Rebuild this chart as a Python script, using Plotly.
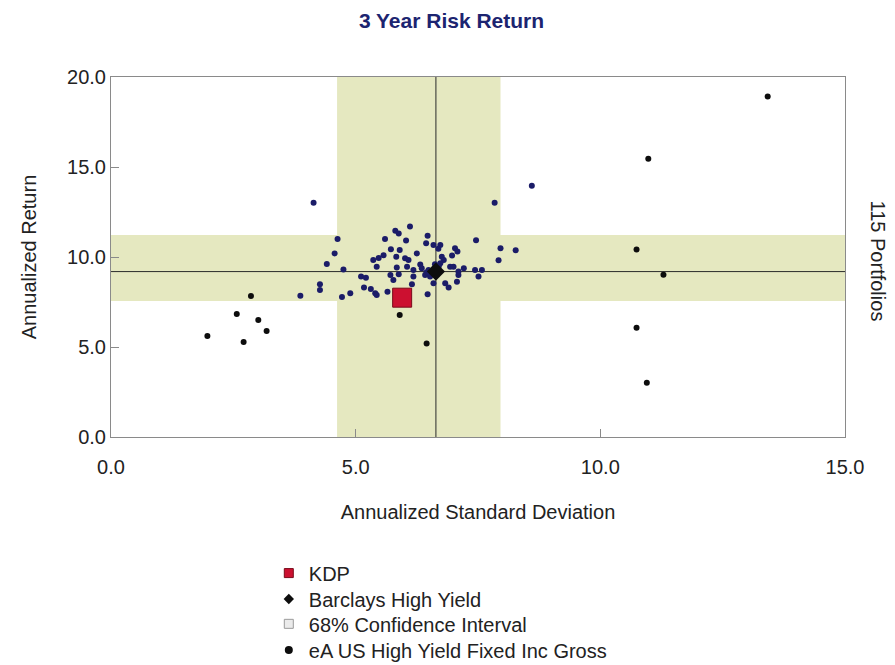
import plotly.graph_objects as go

# ---------------- data ----------------
title_text = "3 Year Risk Return"
x_title = "Annualized Standard Deviation"
y_title = "Annualized Return"
universe_label = "115 Portfolios"

x_ticks = [0, 5, 10, 15]
x_ticklabels = ["0.0", "5.0", "10.0", "15.0"]
y_ticks = [0, 5, 10, 15, 20]
y_ticklabels = ["0.0", "5.0", "10.0", "15.0", "20.0"]

# peer universe (eA US High Yield Fixed Inc Gross) - core group
peer_sd = [4.14, 8.60, 7.84,
           6.11, 5.81, 5.88, 6.47, 4.63, 5.60, 6.03, 7.46,
           6.44, 6.59, 6.73, 6.69, 7.03, 7.08, 7.96, 8.27,
           5.72, 5.90, 6.25, 4.57, 5.57, 5.47, 5.36, 5.83, 6.01, 6.08,
           6.76, 6.80, 6.73, 6.97, 7.92,
           4.41, 4.75, 5.43, 5.84, 6.05, 6.32, 6.35, 6.18, 6.49, 6.93, 7.00, 7.21, 7.10, 7.44, 7.58,
           7.51, 7.10, 5.71, 5.88, 6.42, 6.52, 6.18, 5.11, 5.21, 5.77, 6.15, 6.59, 6.83, 6.90, 7.07,
           4.27, 4.27, 5.17, 5.31, 5.40, 5.43, 5.65, 6.47, 4.89, 4.72, 3.87,
           6.55, 6.60, 6.70, 6.62, 6.45]
peer_ret = [13.02, 13.96, 13.02,
            11.70, 11.46, 11.30, 11.18, 11.00, 11.00, 10.91, 10.93,
            10.76, 10.67, 10.67, 10.46, 10.48, 10.30, 10.48, 10.38,
            10.43, 10.39, 10.20, 10.20, 10.10, 9.94, 9.84, 10.02, 9.93, 9.83,
            10.02, 9.83, 9.65, 10.08, 9.82,
            9.61, 9.31, 9.46, 9.41, 9.46, 9.59, 9.37, 9.28, 9.28, 9.46, 9.46, 9.37, 9.19, 9.28, 9.28,
            8.91, 9.00, 9.00, 9.04, 9.00, 8.91, 8.91, 8.91, 8.85, 8.72, 8.48, 8.54, 8.54, 8.30, 8.63,
            8.48, 8.17, 8.30, 8.22, 7.98, 7.89, 8.07, 7.93, 7.98, 7.78, 7.85,
            9.10, 9.35, 9.50, 9.60, 9.15]

# peer universe - outlying group
peer_out_sd = [2.86, 2.57, 3.01, 3.18, 1.97, 2.71, 5.90, 6.45,
               13.42, 10.98, 10.74, 11.29, 10.74, 10.95]
peer_out_ret = [7.83, 6.83, 6.50, 5.89, 5.61, 5.28, 6.78, 5.20,
                18.91, 15.46, 10.41, 9.02, 6.07, 3.02]

kdp_name = "KDP"
kdp_sd = [5.95]
kdp_ret = [7.74]

bench_name = "Barclays High Yield"
bench_sd = [6.64]
bench_ret = [9.19]

ci_name = "68% Confidence Interval"
ci_sd = [4.62, 7.96]
ci_ret = [7.56, 11.22]

peer_name = "eA US High Yield Fixed Inc Gross"

# ---------------- styles ----------------
band_color = "#e5e8c0"
navy = "#1b1c68"
black = "#0d0d0d"
red = "#cc1030"
font_main = "Liberation Sans, Arial, sans-serif"
text_color = "#222222"

fig = go.Figure()

fig.add_trace(go.Scatter(x=peer_sd, y=peer_ret, mode="markers", showlegend=False,
                         marker=dict(size=6, color=navy), hoverinfo="x+y"))
fig.add_trace(go.Scatter(x=peer_out_sd, y=peer_out_ret, mode="markers", showlegend=False,
                         marker=dict(size=6, color=black), hoverinfo="x+y"))
fig.add_trace(go.Scatter(x=kdp_sd, y=kdp_ret, mode="markers", showlegend=False,
                         marker=dict(size=19, symbol="square", color=red,
                                     line=dict(color="#7a0a1a", width=1))))
fig.add_trace(go.Scatter(x=bench_sd, y=bench_ret, mode="markers", showlegend=False,
                         marker=dict(size=14, symbol="diamond", color=black)))

# legend proxies, one legend each so the rows can be spaced like the reference
legend_items = [
    (kdp_name, dict(size=9, symbol="square", color=red, line=dict(color="#7a0a1a", width=1))),
    (bench_name, dict(size=8, symbol="diamond", color=black)),
    (ci_name, dict(size=9, symbol="square", color="#ebebeb", line=dict(color="#9a9a9a", width=1))),
    (peer_name, dict(size=8, symbol="circle", color=black)),
]
legend_ids = ["legend", "legend2", "legend3", "legend4"]
legend_rows_y = [-0.378, -0.45, -0.519, -0.592]

for (name, mk), lid in zip(legend_items, legend_ids):
    fig.add_trace(go.Scatter(x=[None], y=[None], mode="markers", name=name,
                             marker=mk, legend=lid))

shapes = [
    dict(type="rect", xref="x", yref="paper", x0=ci_sd[0], x1=ci_sd[1], y0=0, y1=1,
         fillcolor=band_color, line=dict(width=0), layer="below"),
    dict(type="rect", xref="paper", yref="y", x0=0, x1=1, y0=ci_ret[0], y1=ci_ret[1],
         fillcolor=band_color, line=dict(width=0), layer="below"),
    dict(type="line", xref="x", yref="paper", x0=bench_sd[0], x1=bench_sd[0], y0=0, y1=1,
         line=dict(color="#2a2a2a", width=1), layer="below"),
    dict(type="line", xref="paper", yref="y", x0=0, x1=1, y0=bench_ret[0], y1=bench_ret[0],
         line=dict(color="#2a2a2a", width=1), layer="below"),
]

axis_common = dict(showgrid=False, zeroline=False, showline=True, linecolor="#8a8a8a",
                   linewidth=1, mirror=True, ticks="inside", ticklen=8, tickcolor="#8a8a8a",
                   tickfont=dict(family=font_main, size=20, color=text_color))

legend_style = dict(x=0.215, xanchor="left", yanchor="middle", orientation="v",
                    bgcolor="rgba(0,0,0,0)",
                    font=dict(family=font_main, size=20, color=text_color))

layout_legends = {}
for lid, ly in zip(legend_ids, legend_rows_y):
    layout_legends[lid] = dict(y=ly, **legend_style)

fig.update_layout(
    width=887, height=657,
    margin=dict(l=103, r=50, t=69, b=228, autoexpand=False),
    plot_bgcolor="white", paper_bgcolor="white",
    title=dict(text="<b>" + title_text + "</b>", x=0.5, xanchor="center", y=0.981, yanchor="middle",
               font=dict(family="Liberation Sans Narrow, Arial Narrow, Liberation Sans, sans-serif",
                         size=21, color="#1c2470")),
    xaxis=dict(range=[0, 15], tickvals=x_ticks, ticktext=x_ticklabels, ticklabelstandoff=12,
               title=dict(text=x_title, standoff=27,
                          font=dict(family=font_main, size=20, color=text_color)),
               **axis_common),
    yaxis=dict(range=[0, 20], tickvals=y_ticks, ticktext=y_ticklabels, ticklabelstandoff=0,
               title=dict(text=y_title, standoff=25,
                          font=dict(family=font_main, size=20, color=text_color)),
               **axis_common),
    shapes=shapes,
    showlegend=True,
    annotations=[dict(text=universe_label, xref="paper", yref="paper", x=1.045, y=0.49,
                      xanchor="center", yanchor="middle", textangle=90, showarrow=False,
                      font=dict(family=font_main, size=20, color=text_color))],
    **layout_legends,
)

fig.write_html("out.html")
